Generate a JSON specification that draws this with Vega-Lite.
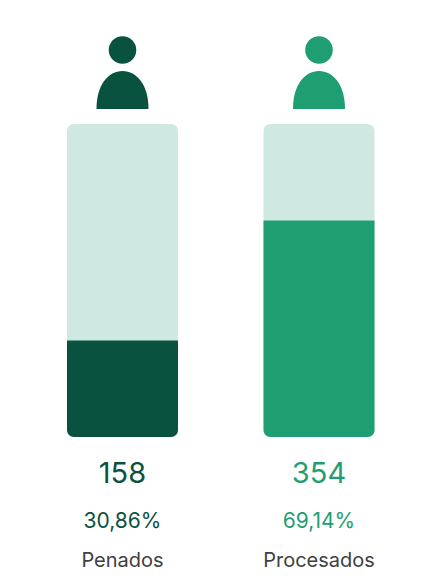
{
"$schema":"https://vega.github.io/schema/vega-lite/v6.json",
"width":448,"height":577,
"autosize":{"type":"fit","contains":"padding"},
"padding":0,
"background":"white",
"view":{"stroke":null},
"data":{"values":[
{"categoria":"Penados","total":100,"pct":30.86,"cantidad":"158","pctTexto":"30,86%"},
{"categoria":"Procesados","total":100,"pct":69.14,"cantidad":"354","pctTexto":"69,14%"}
]},
"encoding":{
"x":{"field":"categoria","type":"nominal","sort":null,"axis":null,"scale":{"type":"band","range":[24.25,417.25],"paddingInner":0,"paddingOuter":0}}
},
"layer":[
{"mark":{"type":"bar","width":111,"color":"#cfe9e2","cornerRadius":7},
 "encoding":{"y":{"field":"total","type":"quantitative","axis":null,"scale":{"domain":[-44.73,139.62],"nice":false,"zero":false}},"y2":{"datum":0}}},
{"mark":{"type":"bar","width":111,"cornerRadiusBottomLeft":7,"cornerRadiusBottomRight":7},
 "encoding":{"y":{"field":"pct","type":"quantitative"},"y2":{"datum":0},
 "color":{"field":"categoria","type":"nominal","legend":null,"scale":{"domain":["Penados","Procesados"],"range":["#0a5240","#1f9e72"]}}}},
{"mark":{"type":"point","shape":"circle","filled":true,"size":760,"opacity":1},
 "encoding":{"y":{"datum":123.64},"color":{"field":"categoria","type":"nominal","legend":null}}},
{"mark":{"type":"point","shape":"M-1,0.73C-1,-0.2-0.55,-0.73,0,-0.73C0.55,-0.73,1,-0.2,1,0.73Z","filled":true,"size":2704,"opacity":1},
 "encoding":{"y":{"datum":110.86},"color":{"field":"categoria","type":"nominal","legend":null}}},
{"mark":{"type":"text","font":"Inter","fontSize":29,"fontWeight":400,"baseline":"middle"},
 "encoding":{"y":{"datum":-11.9},"text":{"field":"cantidad"},"color":{"field":"categoria","type":"nominal","legend":null}}},
{"mark":{"type":"text","font":"Inter","fontSize":21,"fontWeight":400,"baseline":"middle"},
 "encoding":{"y":{"datum":-27},"text":{"field":"pctTexto"},"color":{"field":"categoria","type":"nominal","legend":null}}},
{"mark":{"type":"text","font":"Inter","fontSize":20,"color":"#3f3f3f","baseline":"middle"},
 "encoding":{"y":{"datum":-39.6},"text":{"field":"categoria"}}}
]
}
